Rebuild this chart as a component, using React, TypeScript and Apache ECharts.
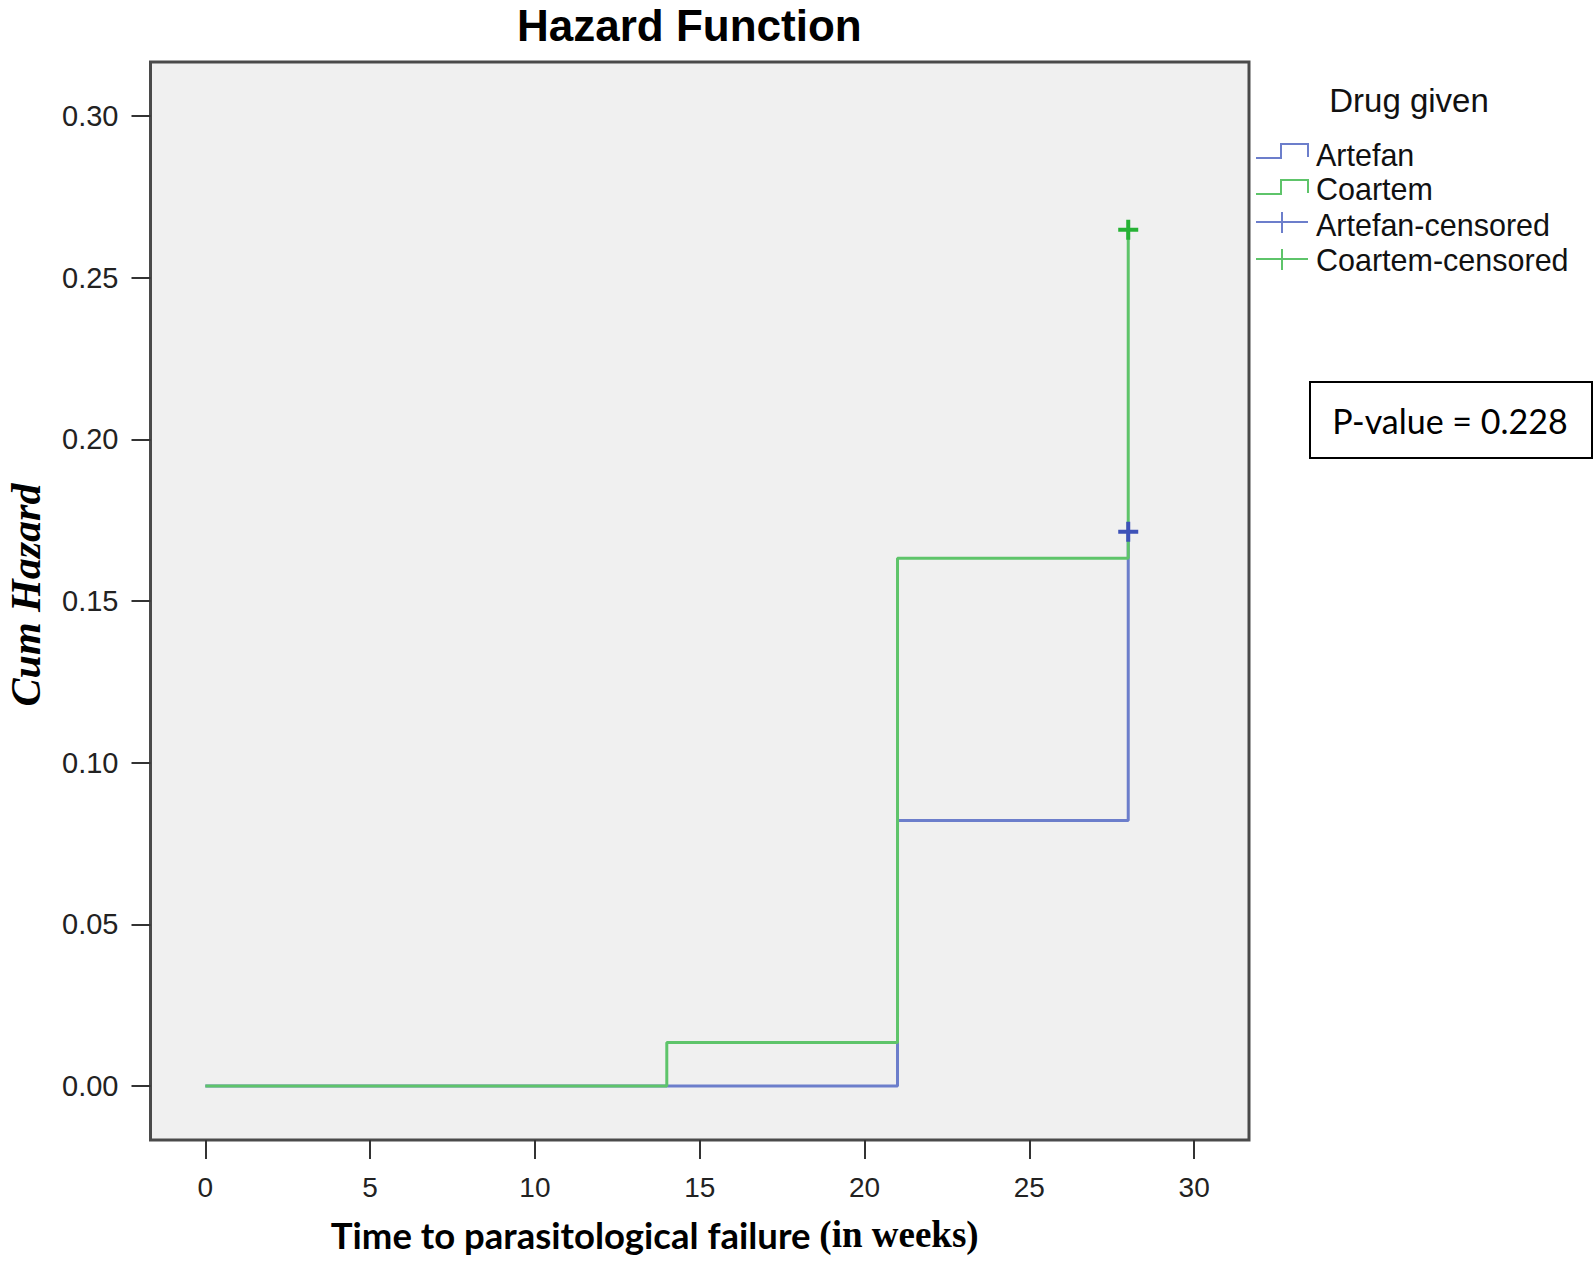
import React, { useEffect, useRef } from "react";
import * as echarts from "echarts";

// ---- data ----
const xTicks = [0, 5, 10, 15, 20, 25, 30];
const yTicks = [0, 0.05, 0.1, 0.15, 0.2, 0.25, 0.3];
const artefanTimes = [0, 21, 28];
const artefanHazard = [0, 0.0821, 0.1714];
const coartemTimes = [0, 14, 21, 28];
const coartemHazard = [0, 0.0135, 0.1632, 0.2648];
const artefanCensoredTime = [28];
const artefanCensoredHazard = [0.1714];
const coartemCensoredTime = [28];
const coartemCensoredHazard = [0.2648];
const legendTitle = "Drug given";
const legendLabels = ["Artefan", "Coartem", "Artefan-censored", "Coartem-censored"];
const pValueText = "P-value = 0.228";

const BLUE_LINE = "#6c7ecb";
const GREEN_LINE = "#5ec46a";
const BLUE_MARK = "#3e52b8";
const GREEN_MARK = "#26b235";

const PLUS = "path://M8,0 H12 V8 H20 V12 H12 V20 H8 V12 H0 V8 H8 Z";

export default function App() {
  const ref = useRef<HTMLDivElement>(null);
  useEffect(() => {
    if (!ref.current) return;
    const chart = echarts.init(ref.current, null, { renderer: "svg" });
    const pts = (t: number[], h: number[]) => t.map((v, i) => [v, h[i]]);

    const legendX = 1256;
    const textX = 1316;
    const legendGraphics: any[] = [
      {
        type: "text",
        x: 1409,
        y: 100,
        style: {
          text: legendTitle,
          font: "33px 'Liberation Sans', Arial, sans-serif",
          fill: "#111",
          align: "center",
          verticalAlign: "middle",
        },
      },
      {
        type: "polyline",
        shape: { points: [[legendX, 158], [1281, 158], [1281, 144], [1308, 144], [1308, 157]] },
        style: { stroke: BLUE_LINE, lineWidth: 2, fill: "none" },
      },
      {
        type: "polyline",
        shape: { points: [[legendX, 194], [1281, 194], [1281, 180], [1308, 180], [1308, 193]] },
        style: { stroke: GREEN_LINE, lineWidth: 2, fill: "none" },
      },
      { type: "line", shape: { x1: legendX, y1: 222, x2: 1308, y2: 222 }, style: { stroke: BLUE_LINE, lineWidth: 2 } },
      { type: "line", shape: { x1: 1282, y1: 212, x2: 1282, y2: 233 }, style: { stroke: BLUE_LINE, lineWidth: 2 } },
      { type: "line", shape: { x1: legendX, y1: 259, x2: 1308, y2: 259 }, style: { stroke: GREEN_LINE, lineWidth: 2 } },
      { type: "line", shape: { x1: 1282, y1: 249, x2: 1282, y2: 270 }, style: { stroke: GREEN_LINE, lineWidth: 2 } },
    ];
    const ys = [155, 189, 225, 260];
    legendLabels.forEach((l, i) => {
      legendGraphics.push({
        type: "text",
        x: textX,
        y: ys[i],
        style: {
          text: l,
          font: "30.5px 'Liberation Sans', Arial, sans-serif",
          fill: "#111",
          align: "left",
          verticalAlign: "middle",
        },
      });
    });

    // plot box spans a little beyond the data range, as in the original
    const xMin = -1.664;
    const xMax = 31.664;
    const yMin = -0.01668;
    const yMax = 0.31668;

    const option: any = {
      animation: false,
      backgroundColor: "#ffffff",
      title: {
        text: "Hazard Function",
        left: 512,
        top: -2,
        textStyle: {
          fontFamily: "'Liberation Sans', Arial, sans-serif",
          fontWeight: "bold",
          fontSize: 44,
          color: "#000",
        },
      },
      grid: {
        left: 150.5,
        top: 62,
        width: 1098.5,
        height: 1078,
        containLabel: false,
        outerBoundsMode: "none",
        show: true,
        backgroundColor: "#f0f0f0",
        borderColor: "#4a4a4a",
        borderWidth: 3,
      },
      xAxis: {
        type: "value",
        min: xMin,
        max: xMax,
        name: "{a|Time to parasitological failure }{b|(in weeks)}",
        nameLocation: "middle",
        nameGap: 76,
        nameTextStyle: {
          padding: [0, 90, 0, 0],
          rich: {
            a: { fontFamily: "Lato, 'Open Sans', sans-serif", fontWeight: "bold", fontSize: 36.5, color: "#000" },
            b: { fontFamily: "'Liberation Serif', 'Times New Roman', serif", fontWeight: "bold", fontSize: 37, color: "#000" },
          },
        },
        axisLine: { show: false, onZero: false },
        axisTick: {
          show: true,
          inside: false,
          length: 19,
          customValues: xTicks,
          lineStyle: { color: "#333", width: 2 },
        },
        axisLabel: {
          margin: 33,
          customValues: xTicks,
          fontFamily: "'Liberation Sans', Arial, sans-serif",
          fontSize: 28,
          color: "#222",
          formatter: (v: number) => String(v),
        },
        splitLine: { show: false },
      },
      yAxis: {
        type: "value",
        min: yMin,
        max: yMax,
        name: "Cum Hazard",
        nameLocation: "middle",
        nameGap: 104,
        nameTextStyle: {
          padding: [0, 0, 0, 12],
          fontFamily: "'Liberation Serif', 'Times New Roman', serif",
          fontWeight: "bold",
          fontStyle: "italic",
          fontSize: 42,
          color: "#000",
        },
        axisLine: { show: false, onZero: false },
        axisTick: {
          show: true,
          inside: false,
          length: 19,
          customValues: yTicks,
          lineStyle: { color: "#333", width: 2 },
        },
        axisLabel: {
          margin: 32,
          customValues: yTicks,
          fontFamily: "'Liberation Sans', Arial, sans-serif",
          fontSize: 29,
          color: "#222",
          formatter: (v: number) => v.toFixed(2),
        },
        splitLine: { show: false },
      },
      graphic: {
        elements: [
          ...legendGraphics,
          {
            type: "rect",
            shape: { x: 1310, y: 382, width: 282, height: 76 },
            style: { fill: "#ffffff", stroke: "#000", lineWidth: 2 },
          },
          {
            type: "text",
            x: 1450,
            y: 420,
            style: {
              text: pValueText,
              font: "34px Lato, 'Open Sans', sans-serif",
              fill: "#000",
              align: "center",
              verticalAlign: "middle",
            },
          },
        ],
      },
      series: [
        {
          name: "Artefan",
          type: "line",
          step: "end",
          data: pts(artefanTimes, artefanHazard),
          showSymbol: false,
          lineStyle: { color: BLUE_LINE, width: 3 },
          itemStyle: { color: BLUE_LINE },
          z: 2,
        },
        {
          name: "Coartem",
          type: "line",
          step: "end",
          data: pts(coartemTimes, coartemHazard),
          showSymbol: false,
          lineStyle: { color: GREEN_LINE, width: 3 },
          itemStyle: { color: GREEN_LINE },
          z: 3,
        },
        {
          name: "Artefan-censored",
          type: "scatter",
          data: pts(artefanCensoredTime, artefanCensoredHazard),
          symbol: PLUS,
          symbolSize: 20,
          itemStyle: { color: BLUE_MARK, opacity: 1 },
          z: 4,
        },
        {
          name: "Coartem-censored",
          type: "scatter",
          data: pts(coartemCensoredTime, coartemCensoredHazard),
          symbol: PLUS,
          symbolSize: 20,
          itemStyle: { color: GREEN_MARK, opacity: 1 },
          z: 5,
        },
      ],
    };
    chart.setOption(option);
    return () => chart.dispose();
  }, []);
  return (
    <div
      ref={ref}
      style={{ position: "fixed", left: 0, top: 0, width: 1594, height: 1262, background: "#fff" }}
    />
  );
}
